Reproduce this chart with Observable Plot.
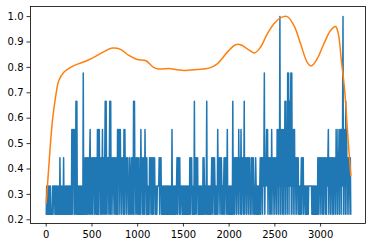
<!DOCTYPE html>
<html><head><meta charset="utf-8">
<script src="https://cdn.jsdelivr.net/npm/d3@7"></script>
<script src="https://cdn.jsdelivr.net/npm/@observablehq/plot@0.6"></script>
<style>body{margin:0;background:#fff}</style>
</head><body><div id="chart"></div>
<script>
// Blue series: one sample every 5 index units, each digit d means value d/9
const sampleStep = 5;
const blueLevels = [
  "23232323232222323332","32323232324232323242","32323232323232325253","52523626232323232323",
  "27232424324243245243","24243424324252525342","42352432462632434246","26243424342432425253",
  "52534243425253424342","32432342432626342432","43242325342432425342","42323243424324243423",
  "23233334243423232323","23232323232323252323","23232342434242333232","32323232323232424342",
  "32326234243423232323","23242432323623232323","23424342432323253424","34243232342434235232",
  "32323232623424342434","25342352434236243424","34243423243424323243","23232323424342434724",
  "34535243424325342434","24342535253925352542","53626352737263572735","25352434243423232342",
  "43423332323232333333","32323232323232424342","43424324342432434524","34243424324342534253",
  "42535253592535263524","3424342"
].join("");

// Orange smooth series
const orangeX = [0, 29, 66, 102, 138, 193, 302, 448, 558, 667, 722, 813, 904, 995, 1086, 1174, 1228, 1359, 1447, 1505, 1651, 1779, 1870, 1980, 2070, 2125, 2198, 2278, 2344, 2417, 2490, 2562, 2635, 2708, 2781, 2854, 2898, 2963, 3036, 3109, 3164, 3195, 3226, 3263, 3299, 3330];
const orangeY = [0.265, 0.414, 0.584, 0.683, 0.748, 0.781, 0.807, 0.827, 0.847, 0.869, 0.876, 0.871, 0.847, 0.831, 0.827, 0.80, 0.794, 0.795, 0.79, 0.788, 0.792, 0.797, 0.814, 0.86, 0.889, 0.889, 0.873, 0.857, 0.88, 0.932, 0.972, 0.995, 1.0, 0.965, 0.893, 0.82, 0.806, 0.834, 0.893, 0.945, 0.961, 0.93, 0.83, 0.71, 0.525, 0.374];

const xTicks = [0, 500, 1000, 1500, 2000, 2500, 3000];
const yTicks = [0.2, 0.3, 0.4, 0.5, 0.6, 0.7, 0.8, 0.9, 1.0];

const blue = Array.from(blueLevels, (c, i) => ({x: i * sampleStep, y: +c / 9}));
const orange = orangeX.map((x, i) => ({x, y: orangeY[i]}));

const chart = Plot.plot({
  width: 372, height: 248,
  marginLeft: 30, marginRight: 7, marginTop: 6, marginBottom: 25,
  style: {fontFamily: "DejaVu Sans", fontSize: "10px", color: "black", background: "white"},
  x: {domain: [-172, 3491], label: null},
  y: {domain: [0.1854, 1.0397], label: null},
  marks: [
    Plot.line(blue, {x: "x", y: "y", stroke: "#1f77b4", strokeWidth: 1.5}),
    Plot.line(orange, {x: "x", y: "y", stroke: "#ff7f0e", strokeWidth: 1.5, curve: "catmull-rom"}),
    Plot.frame({stroke: "black", strokeWidth: 0.8}),
    Plot.axisX({ticks: xTicks, tickSize: 3.5, tickPadding: 3.5, label: null, strokeWidth: 0.8, tickFormat: d => String(d)}),
    Plot.axisY({ticks: yTicks, tickSize: 3.5, tickPadding: 3.5, label: null, strokeWidth: 0.8, tickFormat: d => d.toFixed(1)})
  ]
});
document.getElementById("chart").appendChild(chart);
</script>
</body></html>
